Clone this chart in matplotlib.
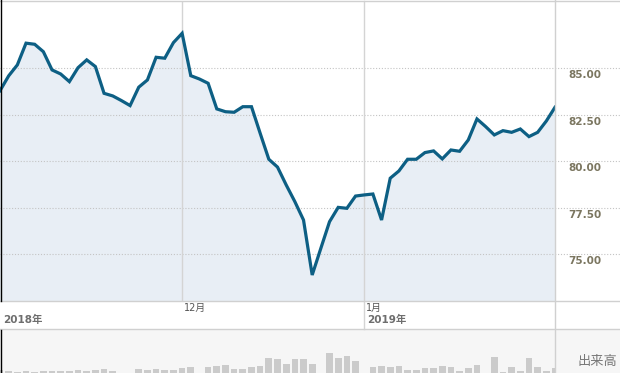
import matplotlib
matplotlib.use('Agg')
import matplotlib.pyplot as plt
from matplotlib.lines import Line2D
from matplotlib.patches import Rectangle

# closing prices, one per trading day (Nov 2018 - Jan 2019)
prices = [
    83.79, 84.59, 85.18, 86.35, 86.29, 85.89, 84.91, 84.69, 84.28, 85.03,
    85.45, 85.09, 83.65, 83.51, 83.26, 82.99, 83.98, 84.37, 85.59, 85.54,
    86.38, 86.88, 84.60, 84.42, 84.19, 82.81, 82.66, 82.63, 82.93, 82.93,
    81.50, 80.10, 79.68, 78.72, 77.82, 76.83, 73.87, 75.31, 76.74, 77.51,
    77.46, 78.12, 78.18, 78.23, 76.83, 79.08, 79.47, 80.10, 80.10, 80.46,
    80.55, 80.12, 80.60, 80.53, 81.14, 82.27, 81.86, 81.41, 81.64, 81.55,
    81.73, 81.32, 81.55, 82.16, 82.90,
]

# volume (arbitrary units); the panel only shows the top of each bar
volumes = [
    53.3, 52.3, 51.3, 52.3, 51.3, 52.3, 52.3, 52.3, 52.3, 53.3,
    52.3, 53.3, 54.3, 52.3, 45.0, 45.0, 54.3, 53.3, 54.3, 53.3,
    53.3, 55.3, 56.3, 45.0, 56.3, 57.3, 58.3, 54.3, 54.3, 56.3,
    57.3, 65.3, 64.3, 59.3, 64.3, 64.3, 59.0, 45.0, 70.0, 65.0,
    67.3, 62.0, 45.0, 56.0, 57.0, 56.0, 57.0, 53.3, 53.3, 55.0,
    55.0, 57.0, 56.0, 52.3, 55.0, 58.0, 45.0, 66.0, 51.3, 56.0,
    52.3, 65.0, 56.0, 52.3, 55.0,
]

y_ticks = [75.0, 77.5, 80.0, 82.5, 85.0]
month_pos = [21, 42]
month_labels = ['12月', '1月']
year_pos = [0, 42]
year_labels = ['2018年', '2019年']

W, H = 620, 373
plt.rcParams['font.family'] = ['DejaVu Sans', 'Noto Sans CJK JP']

fig = plt.figure(figsize=(W / 100, H / 100), dpi=100)


def fx(px):
    return px / W


def fy(py):
    return 1 - py / H


# volume panel background
fig.add_artist(Rectangle((0, 0), 1, fy(329), transform=fig.transFigure,
                         facecolor='#f6f6f6', edgecolor='none', zorder=0))

plot_right = 555
ax = fig.add_axes([0, fy(301), fx(plot_right), (301 - 1) / H])
vax = fig.add_axes([0, 0, fx(plot_right), fy(329)])

x = list(range(len(prices)))

ax.fill_between(x, prices, 60, color='#e8eef5', zorder=1)
ax.plot(x, prices, color='#0d5f84', lw=2.3, solid_joinstyle='miter', zorder=3)
ax.set_xlim(0, len(prices) - 1)
ax.set_ylim(72.47, 88.62)
ax.axis('off')

# dotted horizontal grid, running into the label column
ax.hlines(y_ticks, 0, W / plot_right, transform=ax.get_yaxis_transform(),
          colors='#c4c4c4', linestyles=(0, (1, 1.6)), lw=0.8, clip_on=False, zorder=2)
for v in y_ticks:
    ax.text(568 / plot_right, v - 0.12, f'{v:.2f}', transform=ax.get_yaxis_transform(),
            ha='left', va='top', fontsize=7.5, fontweight='bold', color='#7b7660', clip_on=False)

# month gridlines
ax.axvline(month_pos[0], color='#d4d4d4', lw=1, zorder=2)
ax.axvline(month_pos[1], ymin=-28 / 300, ymax=1, color='#d4d4d4', lw=1, zorder=2, clip_on=False)
for p, lab in zip(month_pos, month_labels):
    ax.text(p + 0.25, 72.47 - 0.08, lab, ha='left', va='top', fontsize=7,
            color='#555555', clip_on=False)
for p, lab in zip(year_pos, year_labels):
    ax.text(p + 0.35, 72.47 - 0.76, lab, ha='left', va='top', fontsize=7.5,
            fontweight='bold', color='#6e6e6e', clip_on=False)

vax.bar(x, volumes, width=0.77, color='#cbcbcb')
vax.set_xlim(0, len(prices) - 1)
vax.set_ylim(50, 50 + 44)
vax.axis('off')
fig.text(fx(597), fy(361), '出来高', ha='center', va='center', fontsize=9.5, color='#777777')

# panel borders
border = '#d0d0d0'
for py in (0.5, 301, 329):
    fig.add_artist(Line2D([0, 1], [fy(py), fy(py)], transform=fig.transFigure, color=border, lw=1))
fig.add_artist(Line2D([fx(554.5), fx(554.5)], [0, 1], transform=fig.transFigure, color=border, lw=1))
fig.add_artist(Line2D([fx(0.5), fx(0.5)], [fy(301), fy(0)], transform=fig.transFigure, color='black', lw=1))
fig.add_artist(Line2D([fx(0.5), fx(0.5)], [fy(373), fy(330)], transform=fig.transFigure, color='black', lw=1))

fig.savefig('out.png', dpi=100)
